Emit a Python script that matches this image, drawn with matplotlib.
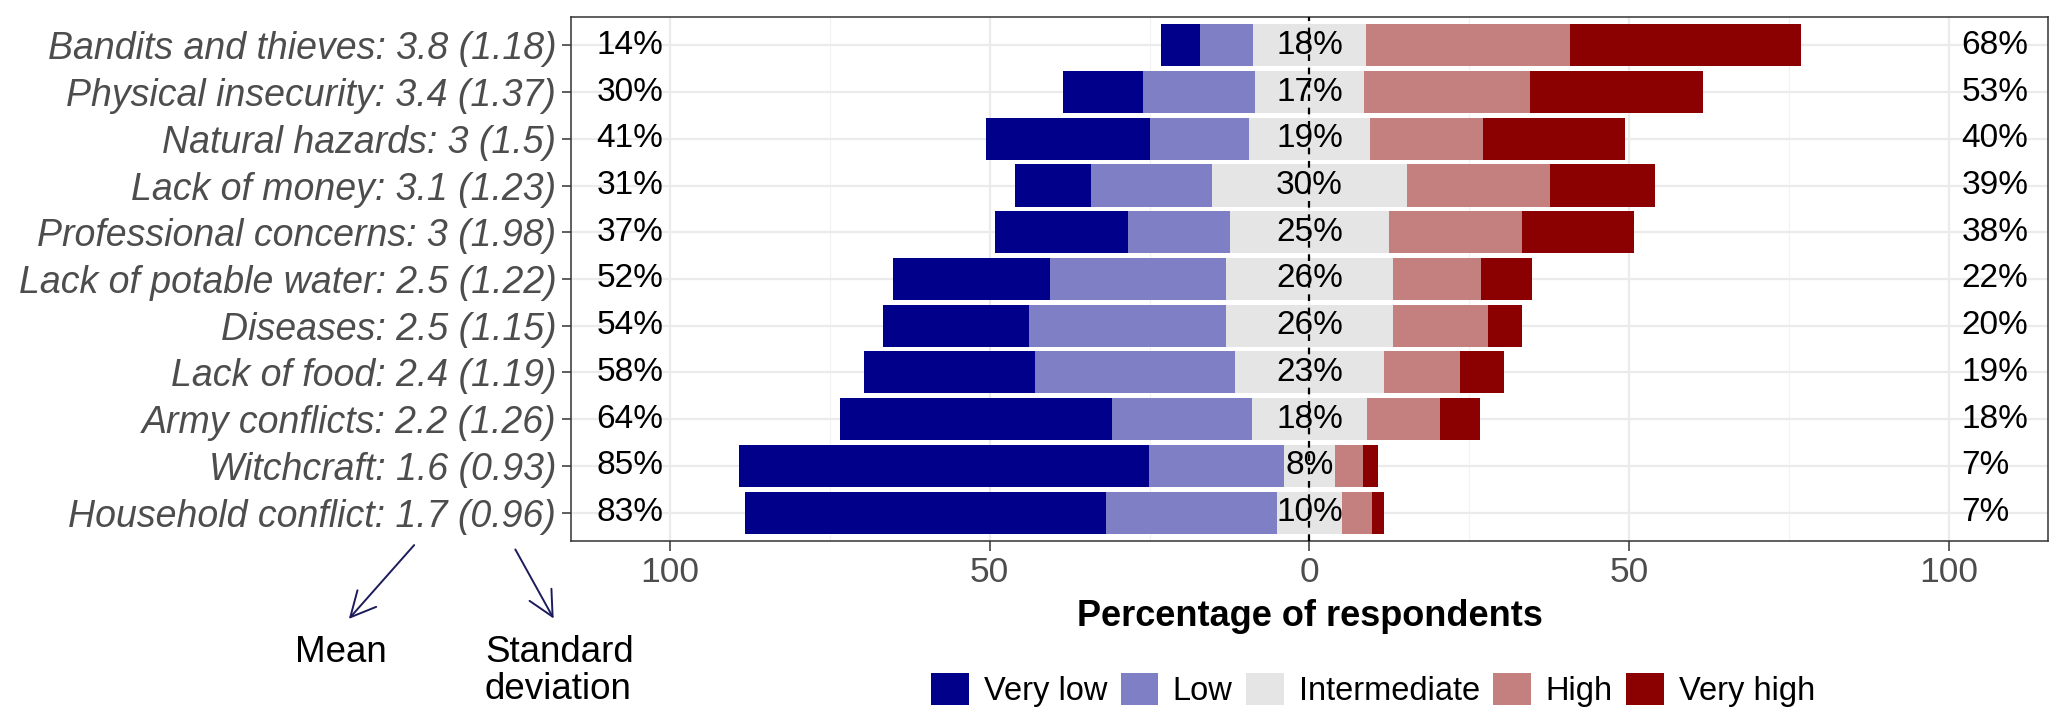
import numpy as np
import matplotlib
matplotlib.use("Agg")
import matplotlib.pyplot as plt
from matplotlib.patches import FancyArrowPatch, Patch

plt.rcParams["font.family"] = ["Liberation Sans", "DejaVu Sans"]

# ---------------------------------------------------------------- data
risks = ["Bandits and thieves", "Physical insecurity", "Natural hazards",
         "Lack of money", "Professional concerns", "Lack of potable water",
         "Diseases", "Lack of food", "Army conflicts", "Witchcraft",
         "Household conflict"]
means = ["3.8", "3.4", "3", "3.1", "3", "2.5", "2.5", "2.4", "2.2", "1.6", "1.7"]
sds = ["1.18", "1.37", "1.5", "1.23", "1.98", "1.22", "1.15", "1.19", "1.26", "0.93", "0.96"]

levels = ["Very low", "Low", "Intermediate", "High", "Very high"]
very_low = [6.1, 12.4, 25.7, 11.8, 20.8, 24.6, 22.9, 26.7, 42.5, 64.1, 56.5]
low = [8.2, 17.6, 15.5, 19.0, 15.9, 27.6, 30.8, 31.2, 21.8, 21.1, 26.8]
intermediate = [17.8, 17.0, 18.8, 30.4, 25.0, 26.0, 26.0, 23.4, 18.1, 8.1, 10.1]
high = [31.8, 26.0, 17.7, 22.4, 20.7, 13.9, 15.0, 11.9, 11.4, 4.4, 4.7]
very_high = [36.1, 27.0, 22.3, 16.5, 17.6, 7.9, 5.3, 6.8, 6.2, 2.2, 1.9]

low_pct = ["14%", "30%", "41%", "31%", "37%", "52%", "54%", "58%", "64%", "85%", "83%"]
mid_pct = ["18%", "17%", "19%", "30%", "25%", "26%", "26%", "23%", "18%", "8%", "10%"]
high_pct = ["68%", "53%", "40%", "39%", "38%", "22%", "20%", "19%", "18%", "7%", "7%"]

colors = ["#00008B", "#7F7FC5", "#E5E5E5", "#C47F7F", "#8B0000"]

# ---------------------------------------------------------------- figure
fig = plt.figure(figsize=(20.67, 7.27), dpi=100)
ax = fig.add_axes([0.2762, 0.2563, 0.7146, 0.7199])

n = len(risks)
y = np.arange(n)[::-1]
vl = np.array(very_low)
lo = np.array(low)
mid = np.array(intermediate)
hi = np.array(high)
vh = np.array(very_high)

# left side stacks outward from -mid/2, right side from +mid/2
segs = [
    (-mid / 2 - lo - vl, vl),
    (-mid / 2 - lo, lo),
    (-mid / 2, mid),
    (mid / 2, hi),
    (mid / 2 + hi, vh),
]
for (left, width), col, lab in zip(segs, colors, levels):
    ax.barh(y, width, left=left, height=0.9, color=col, label=lab,
            edgecolor="none", zorder=2)

ax.axvline(0, color="black", lw=1.6, ls=(0, (3, 3)), zorder=3)

for yi, a, b, c in zip(y, low_pct, mid_pct, high_pct):
    ax.text(-101, yi, a, ha="right", va="center", fontsize=24, zorder=4)
    ax.text(0, yi, b, ha="center", va="center", fontsize=24, zorder=4)
    ax.text(102, yi, c, ha="left", va="center", fontsize=24, zorder=4)

ax.set_xlim(-115.5, 115.5)
ax.set_ylim(-0.6, n - 0.4)
ax.set_xticks([-100, -50, 0, 50, 100])
ax.set_xticklabels(["100", "50", "0", "50", "100"])
ax.set_xticks([-75, -25, 25, 75], minor=True)
ax.set_yticks(y)
ax.set_yticklabels([f"{r}: {m} ({s})" for r, m, s in zip(risks, means, sds)],
                   fontstyle="italic")
ax.tick_params(axis="x", which="major", labelsize=25.5, colors="#333333",
               labelcolor="#4D4D4D", length=7, width=1.1, pad=4)
ax.tick_params(axis="x", which="minor", length=0)
ax.tick_params(axis="y", labelsize=27, colors="#333333",
               labelcolor="#4D4D4D", length=6.5, width=1.1, pad=4)
ax.grid(which="major", color="#EBEBEB", lw=1.6, zorder=0)
ax.grid(which="minor", axis="x", color="#F2F2F2", lw=0.9, zorder=0)
ax.set_axisbelow(True)
for sp in ax.spines.values():
    sp.set_color("#333333")
    sp.set_linewidth(1.1)

ax.set_xlabel("Percentage of respondents", fontsize=26, fontweight="bold",
              labelpad=7)

handles = [Patch(facecolor=c, edgecolor="none") for c in colors]
fig.legend(handles, levels, loc="center", bbox_to_anchor=(0.6643, 0.0509),
           ncol=5, frameon=False, fontsize=23.5, handlelength=1.15,
           handleheight=1.15, handletextpad=0.45, columnspacing=0.42)

# annotation for the label format
W, H = 2067, 727
arrow_kw = dict(arrowstyle="->,head_length=0.9,head_width=0.45",
                color="#1C1C5C", lw=1.4, mutation_scale=20)
fig.add_artist(FancyArrowPatch((416 / W, 1 - 543 / H), (347 / W, 1 - 621 / H),
                               transform=fig.transFigure, **arrow_kw))
fig.add_artist(FancyArrowPatch((514 / W, 1 - 547 / H), (555 / W, 1 - 621 / H),
                               transform=fig.transFigure, **arrow_kw))
fig.text(341 / W, 1 - 652 / H, "Mean", ha="center", va="center", fontsize=26.5)
fig.text(485 / W, 1 - 671 / H, "Standard\ndeviation", ha="left", va="center",
         fontsize=26.5, linespacing=1.08)

fig.savefig("out.png", dpi=100)
